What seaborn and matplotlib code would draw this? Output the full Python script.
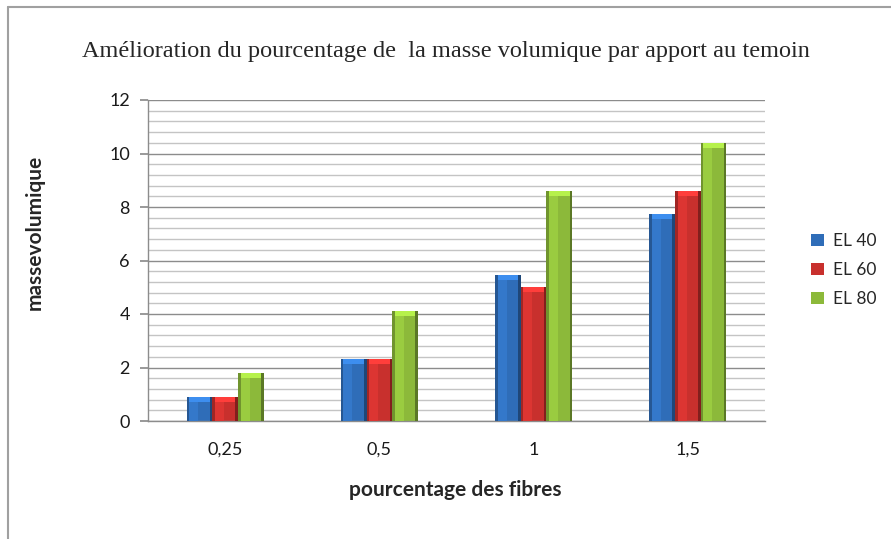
import pandas as pd
import numpy as np
import matplotlib
matplotlib.use("Agg")
import matplotlib.pyplot as plt
import seaborn as sns
from matplotlib.ticker import MultipleLocator
from matplotlib.patches import Rectangle

# donnees
fibres = ["0,25", "0,5", "1", "1,5"]
el40 = [0.9, 2.3, 5.45, 7.75]
el60 = [0.9, 2.3, 5.0, 8.6]
el80 = [1.8, 4.1, 8.6, 10.4]
series = ["EL 40", "EL 60", "EL 80"]
couleurs = ["#2f6db8", "#c8302d", "#8cb93a"]

df = pd.DataFrame({
    "fibres": fibres * 3,
    "valeur": el40 + el60 + el80,
    "serie": [s for s in series for _ in fibres],
})

sns.set_theme(style="white")
plt.rcParams["font.family"] = ["Lato", "DejaVu Sans"]

fig = plt.figure(figsize=(8.91, 5.39), dpi=100)
ax = fig.add_axes([148 / 891, 1 - 421 / 539, (765 - 148) / 891, (421 - 100) / 539])

sns.barplot(data=df, x="fibres", y="valeur", hue="serie", palette=couleurs,
            width=0.5, ax=ax, saturation=1, edgecolor="none", linewidth=0)

# petit effet de relief sur les barres
for bar in ax.patches:
    if bar.get_height() <= 0:
        continue
    x, w, h = bar.get_x(), bar.get_width(), bar.get_height()
    c = np.array(matplotlib.colors.to_rgb(bar.get_facecolor()))
    ax.add_patch(Rectangle((x, 0), w * 0.1, h, color=c * 0.8, lw=0, zorder=3))
    ax.add_patch(Rectangle((x + w * 0.9, 0), w * 0.1, h, color=c * 0.65, lw=0, zorder=3))
    ax.add_patch(Rectangle((x + w * 0.1, 0), w * 0.35, h, color=np.minimum(c * 1.1, 1), lw=0, zorder=3))
    ax.add_patch(Rectangle((x + w * 0.1, h - 0.18), w * 0.8, 0.18,
                           color=np.minimum(c * 1.3, 1), lw=0, zorder=4))

ax.set_ylim(0, 12)
ax.yaxis.set_major_locator(MultipleLocator(2))
ax.yaxis.set_minor_locator(MultipleLocator(0.4))
ax.grid(axis="y", which="major", color="#8c8c8c", linewidth=1.0, zorder=0)
ax.grid(axis="y", which="minor", color="#c4c4c4", linewidth=1.0, zorder=0)
ax.set_axisbelow(True)

for s in ["top", "right"]:
    ax.spines[s].set_visible(False)
for s in ["left", "bottom"]:
    ax.spines[s].set_color("#8c8c8c")
    ax.spines[s].set_linewidth(1.0)

ax.tick_params(axis="y", which="major", direction="out", length=6, color="#8c8c8c",
               labelsize=13, pad=7, left=True)
ax.tick_params(axis="y", which="minor", length=0)
ax.tick_params(axis="x", length=0, labelsize=13, pad=15)
for lbl in ax.get_yticklabels() + ax.get_xticklabels():
    lbl.set_color("#1a1a1a")

ax.set_xlabel("")
ax.set_ylabel("")

leg = ax.legend(loc="center left", bbox_to_anchor=(1.05, 0.47), frameon=False,
                fontsize=12.5, handlelength=0.75, handleheight=0.75,
                labelspacing=0.75, handletextpad=0.5)

fig.text(0.5, 1 - 52 / 539, "Amélioration du pourcentage de  la masse volumique par apport au temoin",
         ha="center", va="center", fontsize=17.5, family=["Liberation Serif", "DejaVu Serif"])
fig.text(455 / 891, 1 - 490 / 539, "pourcentage des fibres", ha="center", va="center",
         fontsize=15, fontweight="bold")
fig.text(35 / 891, 1 - 232 / 539, "massevolumique", ha="center", va="center",
         fontsize=15, fontweight="bold", rotation=90)

# cadre de la zone de graphique
fig.add_artist(plt.Line2D([8 / 891, 8 / 891], [0, 1 - 7 / 539], color="#a0a0a0", lw=1.5))
fig.add_artist(plt.Line2D([8 / 891, 1], [1 - 7 / 539, 1 - 7 / 539], color="#a0a0a0", lw=1.5))

fig.savefig("out.png", dpi=100)
